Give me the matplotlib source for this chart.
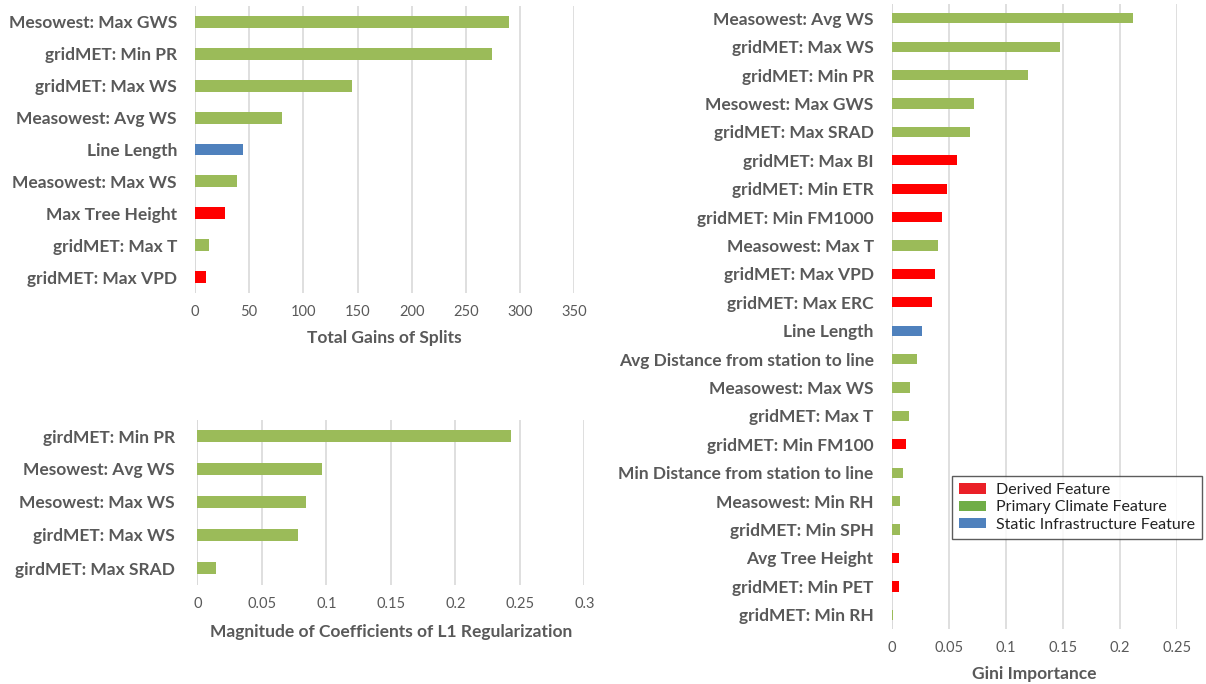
import matplotlib
matplotlib.use("Agg")
import matplotlib.pyplot as plt
from matplotlib.patches import Patch

plt.rcParams['font.family'] = ['Lato', 'DejaVu Sans']

GREEN = '#9BBB59'
RED = '#FF0000'
BLUE = '#4F81BD'
TXT = '#595959'
GRID = '#D9D9D9'

# ---- Panel 1: Total gains of splits ----
gain_labels = ['Mesowest: Max GWS', 'gridMET: Min PR', 'gridMET: Max WS', 'Measowest: Avg WS',
               'Line Length', 'Measowest: Max WS', 'Max Tree Height', 'gridMET: Max T', 'gridMET: Max VPD']
gain_values = [289.3, 273.6, 145.3, 80.6, 44.3, 39.1, 27.4, 13.2, 9.8]
gain_types = ['P', 'P', 'P', 'P', 'S', 'P', 'D', 'P', 'D']
gain_ticks = [0, 50, 100, 150, 200, 250, 300, 350]

# ---- Panel 2: L1 coefficients ----
l1_labels = ['girdMET: Min PR', 'Mesowest: Avg WS', 'Mesowest: Max WS', 'girdMET: Max WS', 'girdMET: Max SRAD']
l1_values = [0.2432, 0.0969, 0.0842, 0.078, 0.0147]
l1_types = ['P', 'P', 'P', 'P', 'P']
l1_ticks = [0, 0.05, 0.1, 0.15, 0.2, 0.25, 0.3]
l1_ticklabels = ['0', '0.05', '0.1', '0.15', '0.2', '0.25', '0.3']

# ---- Panel 3: Gini importance ----
gini_labels = ['Measowest: Avg WS', 'gridMET: Max WS', 'gridMET: Min PR', 'Mesowest: Max GWS',
               'gridMET: Max SRAD', 'gridMET: Max BI', 'gridMET: Min ETR', 'gridMET: Min FM1000',
               'Measowest: Max T', 'gridMET: Max VPD', 'gridMET: Max ERC', 'Line Length',
               'Avg Distance from station to line', 'Measowest: Max WS', 'gridMET: Max T',
               'gridMET: Min FM100', 'Min Distance from station to line', 'Measowest: Min RH',
               'gridMET: Min SPH', 'Avg Tree Height', 'gridMET: Min PET', 'gridMET: Min RH']
gini_values = [0.2114, 0.148, 0.1193, 0.0725, 0.069, 0.057, 0.0488, 0.0439, 0.0409, 0.038,
               0.0351, 0.0266, 0.0219, 0.0161, 0.0152, 0.0123, 0.0099, 0.0073, 0.007, 0.0061,
               0.006, 0.0012]
gini_types = ['P', 'P', 'P', 'P', 'P', 'D', 'D', 'D', 'P', 'D', 'D', 'S', 'P', 'P', 'P', 'D',
              'P', 'P', 'P', 'D', 'D', 'P']
gini_ticks = [0, 0.05, 0.1, 0.15, 0.2, 0.25]
gini_ticklabels = ['0', '0.05', '0.1', '0.15', '0.2', '0.25']

legend_names = ['Derived Feature', 'Primary Climate Feature', 'Static Infrastructure Feature']
legend_colors = ['#EA2027', '#70AD47', '#4F81BD']

cmap = {'P': GREEN, 'D': RED, 'S': BLUE}

W, H = 1206, 684
fig = plt.figure(figsize=(W / 100, H / 100), dpi=100)


def add_ax(x0, x1, y0, y1):
    return fig.add_axes([x0 / W, 1 - y1 / H, (x1 - x0) / W, (y1 - y0) / H])


def style(ax, labels, values, types, ticks, ticklabels, xlabel, height, lpad, xmax, xlpad):
    n = len(labels)
    ypos = list(range(n))
    ax.barh(ypos, values, height=height, color=[cmap[t] for t in types], zorder=3)
    ax.set_ylim(n - 0.5, -0.5)
    ax.set_xlim(0, xmax)
    ax.set_yticks(ypos)
    ax.set_yticklabels(labels, fontsize=12.5, fontweight='bold', color=TXT)
    ax.set_xticks(ticks)
    ax.set_xticklabels(ticklabels, fontsize=10.5, color=TXT)
    ax.tick_params(axis='both', length=0)
    ax.tick_params(axis='y', pad=lpad)
    ax.tick_params(axis='x', pad=9)
    for s in ax.spines.values():
        s.set_visible(False)
    ax.grid(axis='x', color=GRID, linewidth=1.2, zorder=0)
    ax.axvline(0, color=GRID, linewidth=1.2, zorder=1)
    ax.set_xlabel(xlabel, fontsize=12.5, fontweight='bold', color=TXT, labelpad=xlpad)


ax1 = add_ax(195, 574.3, 6, 293)
style(ax1, gain_labels, gain_values, gain_types, gain_ticks,
      [str(t) for t in gain_ticks], 'Total Gains of Splits', 0.37, 13, 350, 7.5)

ax2 = add_ax(197.3, 584.3, 419.5, 584.5)
style(ax2, l1_labels, l1_values, l1_types, l1_ticks, l1_ticklabels,
      'Magnitude of Coefficients of L1 Regularization', 0.38, 16, 0.3, 9.5)

ax3 = add_ax(891.7, 1176.7, 4, 629)
style(ax3, gini_labels, gini_values, gini_types, gini_ticks, gini_ticklabels,
      'Gini Importance', 0.36, 13, 0.25, 7.5)

handles = [Patch(facecolor=c, edgecolor='none') for c in legend_colors]
leg = fig.legend(handles, legend_names, loc='upper left',
                 bbox_to_anchor=(952 / W, 1 - 476 / H), fontsize=11.5,
                 frameon=True, fancybox=False, borderaxespad=0,
                 handlelength=1.7, handleheight=0.6, labelspacing=0.2,
                 borderpad=0.45, handletextpad=0.6)
leg.get_frame().set_edgecolor('#333333')
leg.get_frame().set_linewidth(1.0)
for t in leg.get_texts():
    t.set_color('#222222')

fig.savefig('out.png', dpi=100)
